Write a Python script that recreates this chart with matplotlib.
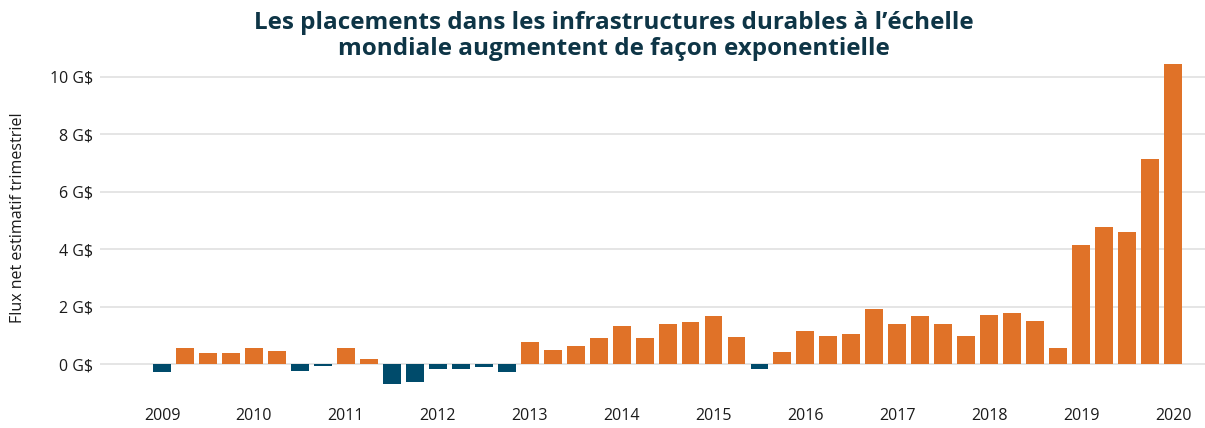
import matplotlib
matplotlib.use("Agg")
import matplotlib.pyplot as plt
import numpy as np

plt.rcParams['font.family'] = ['Open Sans', 'DejaVu Sans']

# Quarterly estimated net flows (billions $), 2009 Q1 .. 2020 Q1
values = [
    -0.28, 0.56, 0.38, 0.38,      # 2009
    0.56, 0.45, -0.24, -0.07,     # 2010
    0.56, 0.17, -0.70, -0.63,     # 2011
    -0.17, -0.17, -0.10, -0.28,   # 2012
    0.77, 0.49, 0.63, 0.91,       # 2013
    1.32, 0.91, 1.39, 1.46,       # 2014
    1.67, 0.94, -0.17, 0.42,      # 2015
    1.15, 0.98, 1.05, 1.92,       # 2016
    1.39, 1.67, 1.39, 0.98,       # 2017
    1.71, 1.78, 1.50, 0.56,       # 2018
    4.15, 4.77, 4.60, 7.14,       # 2019
    10.45,                        # 2020
]
year_labels = ["2009", "2010", "2011", "2012", "2013", "2014", "2015",
               "2016", "2017", "2018", "2019", "2020"]
y_ticks = [0, 2, 4, 6, 8, 10]
y_tick_labels = ["0 G$", "2 G$", "4 G$", "6 G$", "8 G$", "10 G$"]

title = "Les placements dans les infrastructures durables à l’échelle\nmondiale augmentent de façon exponentielle"
ylabel = "Flux net estimatif trimestriel"

ORANGE = "#E07228"
TEAL = "#004B6B"
TITLE_COLOR = "#0E3546"

fig = plt.figure(figsize=(12.05, 4.28), dpi=100)
ax = fig.add_axes([100 / 1205, 28 / 428, 1105 / 1205, 340 / 428])

x = np.arange(len(values))
colors = [ORANGE if v >= 0 else TEAL for v in values]
ax.bar(x, values, width=0.78, color=colors, zorder=3)

ax.set_xlim(-2.7, len(values) - 1 + 1.39)
ax.set_ylim(-1.25, 10.59)

ax.set_yticks(y_ticks)
ax.set_yticklabels(y_tick_labels, fontsize=11.5, color="#1a1a1a")
ax.set_xticks(np.arange(0, len(values), 4))
ax.set_xticklabels(year_labels, fontsize=11.5, color="#1a1a1a")

ax.tick_params(axis="both", length=0)
ax.tick_params(axis="y", pad=5)
ax.tick_params(axis="x", pad=6)

ax.grid(axis="y", color="#E0E0E0", linewidth=1.2, zorder=0)
ax.grid(axis="x", visible=False)
for s in ax.spines.values():
    s.set_visible(False)

fig.text(18 / 1205, 1 - 218 / 428, ylabel, rotation=90, ha="center", va="center",
         fontsize=11.5, color="#1a1a1a")

fig.text(614 / 1205, 1 - 11 / 428, title, ha="center", va="top", fontsize=17.5,
         fontweight="bold", color=TITLE_COLOR, linespacing=1.12)

fig.savefig("out.png", dpi=100)
